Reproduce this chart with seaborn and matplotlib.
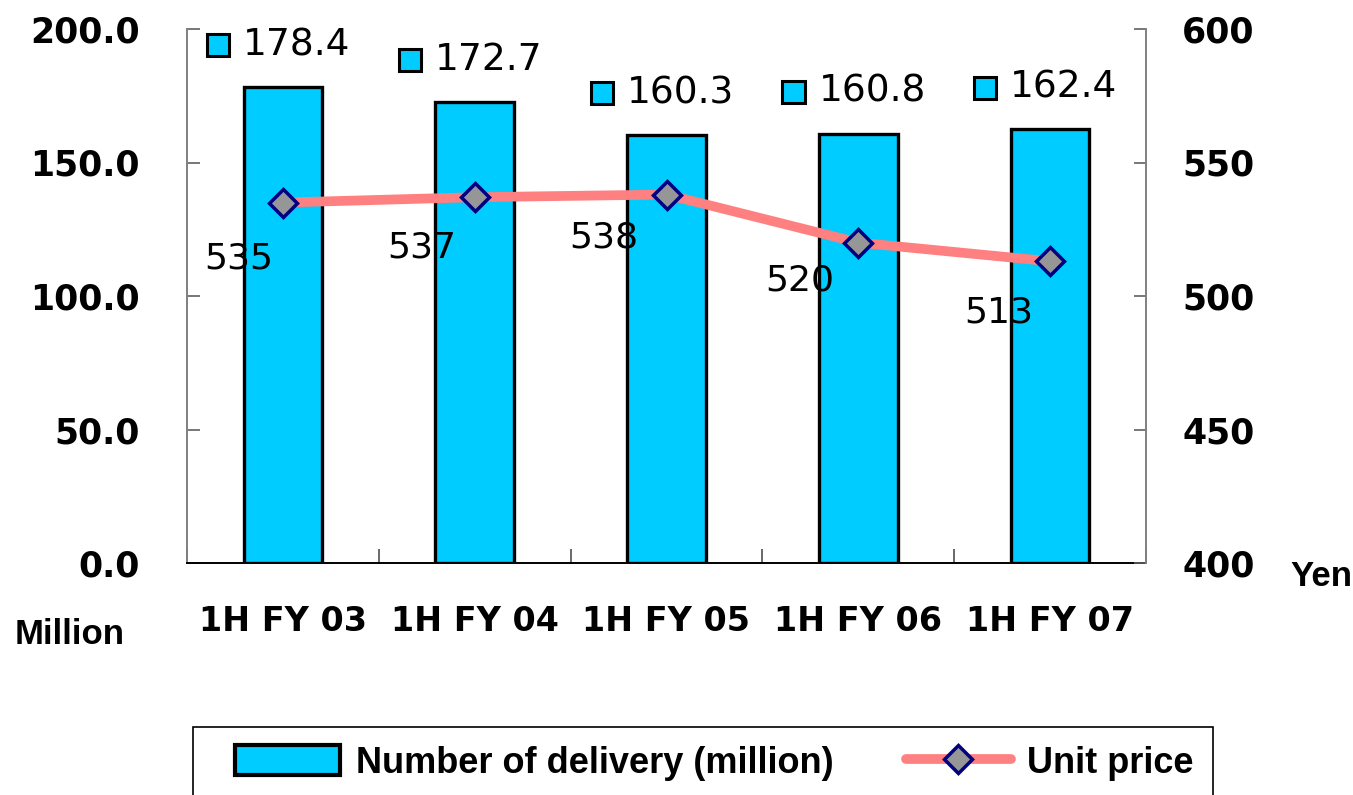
import numpy as np
import pandas as pd
import matplotlib
matplotlib.use('Agg')
import matplotlib.pyplot as plt
import seaborn as sns
from matplotlib.patches import Rectangle
from matplotlib.lines import Line2D
from matplotlib.offsetbox import AnnotationBbox, HPacker, DrawingArea, TextArea

categories = ['1H FY 03', '1H FY 04', '1H FY 05', '1H FY 06', '1H FY 07']
deliveries = [178.4, 172.7, 160.3, 160.8, 162.4]
unit_price = [535, 537, 538, 520, 513]
left_ticks = [0, 50, 100, 150, 200]
right_ticks = [400, 450, 500, 550, 600]

bar_color = '#00CCFF'
line_color = '#FF8080'
marker_face = '#969696'
marker_edge = '#000080'
narrow = ['Liberation Sans Narrow', 'Liberation Sans', 'DejaVu Sans']

sns.set_style('white')
plt.rcParams['font.family'] = ['DejaVu Sans']
plt.rcParams['text.color'] = 'black'
plt.rcParams['xtick.color'] = 'black'
plt.rcParams['ytick.color'] = 'black'

df = pd.DataFrame({'period': categories, 'deliveries': deliveries, 'price': unit_price})

fig = plt.figure(figsize=(13.53, 7.95), dpi=100)
ax = fig.add_axes([187/1353, 1-563/795, (1146-187)/1353, (563-29)/795])

sns.barplot(data=df, x='period', y='deliveries', color=bar_color, width=0.41,
            edgecolor='black', linewidth=2.4, saturation=1, ax=ax)
ax.set_xlim(-0.5, len(categories) - 0.5)
ax.set_ylim(0, 200)
ax.set_yticks(left_ticks)
ax.set_yticklabels([f'{t:.1f}' for t in left_ticks], fontsize=25, fontweight='bold')
ax.set_xticks(range(len(categories)))
ax.set_xticklabels(categories, fontsize=24, fontweight='bold')
ax.set_xticks(np.arange(-0.5, len(categories)), minor=True)
ax.tick_params(axis='x', which='major', length=0, pad=30, labelcolor='black')
ax.tick_params(axis='x', which='minor', bottom=True, length=10, width=1.2,
               direction='in', color='#505050')
ax.tick_params(axis='y', left=True, length=9, width=1.2, direction='in',
               color='#606060', pad=34, labelcolor='black')
ax.set_xlabel('')
ax.set_ylabel('')
for s in ['top', 'right']:
    ax.spines[s].set_visible(False)
ax.spines['left'].set_color('#808080')
ax.spines['left'].set_linewidth(1.4)
ax.spines['bottom'].set_color('black')
ax.spines['bottom'].set_linewidth(1.4)

# bar value labels with a small legend-like square
for i, v in enumerate(deliveries):
    da = DrawingArea(16, 16, 0, 0)
    da.add_artist(Rectangle((0, 0), 16, 16, facecolor=bar_color, edgecolor='black', linewidth=2.2))
    ta = TextArea(f'{v:.1f}', textprops=dict(fontsize=27, color='black'))
    box = HPacker(children=[da, ta], align='center', pad=0, sep=10)
    ab = AnnotationBbox(box, (i, v), xybox=(-3, 30), xycoords='data',
                        boxcoords='offset points', frameon=False, box_alignment=(0.5, 0.5))
    ax.add_artist(ab)

ax2 = ax.twinx()
sns.lineplot(x=range(len(categories)), y=unit_price, color=line_color, linewidth=7,
             marker='D', markersize=14, markerfacecolor=marker_face,
             markeredgecolor=marker_edge, markeredgewidth=2.5, ax=ax2, zorder=5)
ax2.set_ylim(400, 600)
ax2.set_yticks(right_ticks)
ax2.set_yticklabels([str(t) for t in right_ticks], fontsize=25, fontweight='bold')
ax2.tick_params(axis='y', right=True, length=9, width=1.2, direction='in',
                color='#606060', pad=26, labelcolor='black')
for s in ['top', 'left', 'bottom']:
    ax2.spines[s].set_visible(False)
ax2.spines['right'].set_color('#808080')
ax2.spines['right'].set_linewidth(1.4)
ax2.set_xlim(-0.5, len(categories) - 0.5)

label_offsets = [(-32, -40), (-38, -36), (-45, -31), (-42, -27), (-37, -37)]
for i, (p, off) in enumerate(zip(unit_price, label_offsets)):
    ax2.annotate(str(p), (i, p), xytext=off, textcoords='offset points',
                 ha='center', va='center', fontsize=26, color='black')

fig.text(15/1353, 1-635/795, 'Million', fontsize=25, fontweight='bold',
         family=narrow, ha='left', va='center')
fig.text(1290/1353, 1-576/795, 'Yen', fontsize=25, fontweight='bold',
         family=narrow, ha='left', va='center')

# legend frame (bottom edge runs off the figure)
fig.patches.append(Rectangle((193/1353, -0.05), (1213-193)/1353, (1-727/795) + 0.05,
                             transform=fig.transFigure, facecolor='none',
                             edgecolor='black', linewidth=1.2))

handles = [Rectangle((0, 0), 1, 1, facecolor=bar_color, edgecolor='black', linewidth=3),
           Line2D([0], [0], color=line_color, linewidth=7, marker='D', markersize=14,
                  markerfacecolor=marker_face, markeredgecolor=marker_edge, markeredgewidth=2.5)]
leg = fig.legend(handles, ['Number of delivery (million)', 'Unit price'],
                 loc='center left', bbox_to_anchor=(235/1353, 1-763/795), ncol=2,
                 frameon=False, borderaxespad=0, borderpad=0,
                 handlelength=2.9, handleheight=0.9,
                 handletextpad=0.45, columnspacing=2.0,
                 prop=dict(family=narrow, weight='bold', size=26))

fig.savefig('out.png', dpi=100)
